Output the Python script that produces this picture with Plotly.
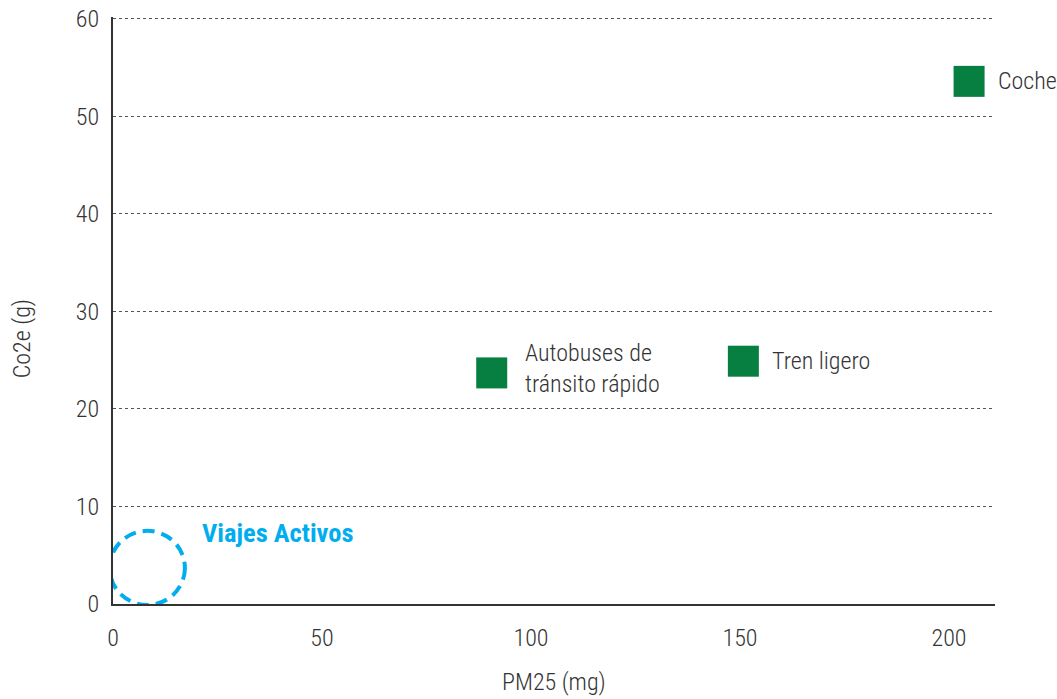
import plotly.graph_objects as go

# Data
modes = ["Coche", "Tren ligero", "Autobuses de<br>tránsito rápido"]
pm25 = [204.8, 150.8, 90.6]
co2e = [53.6, 24.9, 23.7]

active_label = "Viajes Activos"
active_pm25 = 8.2
active_co2e = 3.7
active_rx = 9.0   # half-width of circle in PM25 units
active_ry = 3.8   # half-height of circle in Co2e units

x_ticks = [0, 50, 100, 150, 200]
y_ticks = [0, 10, 20, 30, 40, 50, 60]
x_title = "PM25 (mg)"
y_title = "Co2e (g)"

FONT = "Roboto Condensed, Liberation Sans Narrow, Roboto, sans-serif"
GREEN = "#077F40"
CYAN = "#00AEEF"
TXT = "#333333"
FS = 24
label_xshift = [27, 27, 31]
label_yshift = [0, 0, 4]

fig = go.Figure()
fig.add_trace(go.Scatter(
    x=pm25, y=co2e, mode="markers",
    marker=dict(symbol="square", size=31, color=GREEN, line=dict(width=0)),
    hoverinfo="skip", showlegend=False, cliponaxis=False,
))

annotations = []
for m, xv, yv, xs, ys in zip(modes, pm25, co2e, label_xshift, label_yshift):
    annotations.append(dict(
        x=xv, y=yv, xref="x", yref="y", text=m, showarrow=False,
        xanchor="left", yanchor="middle", align="left", xshift=xs, yshift=ys,
        font=dict(family=FONT, size=FS, color=TXT, weight=300),
    ))
annotations.append(dict(
    x=active_pm25, y=active_co2e, xref="x", yref="y", text="<b>" + active_label + "</b>",
    showarrow=False, xanchor="left", yanchor="middle", xshift=53, yshift=35,
    font=dict(family=FONT, size=26.5, color=CYAN),
))
annotations.append(dict(
    x=0.5, y=0, xref="paper", yref="paper", text=x_title, showarrow=False,
    xanchor="center", yanchor="middle", yshift=-78, borderpad=0,
    font=dict(family=FONT, size=FS, color=TXT, weight=300),
))
annotations.append(dict(
    x=0, y=0.451, xref="paper", yref="paper", text=y_title, showarrow=False,
    xanchor="center", yanchor="middle", xshift=-91, textangle=-90,
    font=dict(family=FONT, size=FS, color=TXT, weight=300),
))

fig.add_shape(
    type="circle", xref="x", yref="y",
    x0=active_pm25 - active_rx, x1=active_pm25 + active_rx,
    y0=active_co2e - active_ry, y1=active_co2e + active_ry,
    line=dict(color=CYAN, width=4, dash="12px,7px"),
)

fig.update_layout(
    width=1057, height=699,
    margin=dict(l=113, r=62, t=17, b=95, autoexpand=False),
    paper_bgcolor="white", plot_bgcolor="white",
    font=dict(family=FONT, size=FS, color=TXT),
    annotations=annotations,
    hovermode=False,
    xaxis=dict(
        range=[0, 211], tickvals=x_ticks, showgrid=False, zeroline=False,
        showline=True, linecolor="#333333", linewidth=2, automargin=False,
        ticks="outside", ticklen=11, tickcolor="rgba(0,0,0,0)",
        ticklabeloverflow="allow",
        tickfont=dict(family=FONT, size=FS, color=TXT, weight=300),
    ),
    yaxis=dict(
        range=[0, 60.2], tickvals=y_ticks, showgrid=True, gridcolor="#555555",
        griddash="dot", gridwidth=1, zeroline=False, automargin=False,
        showline=True, linecolor="#333333", linewidth=2,
        ticks="outside", ticklen=7, tickcolor="rgba(0,0,0,0)",
        ticklabeloverflow="allow",
        tickfont=dict(family=FONT, size=FS, color=TXT, weight=300),
    ),
)

fig.write_html(
    "out.html",
    config={"displayModeBar": False, "staticPlot": True},
    post_script="document.body.style.margin='0';document.body.style.overflow='hidden';",
)
